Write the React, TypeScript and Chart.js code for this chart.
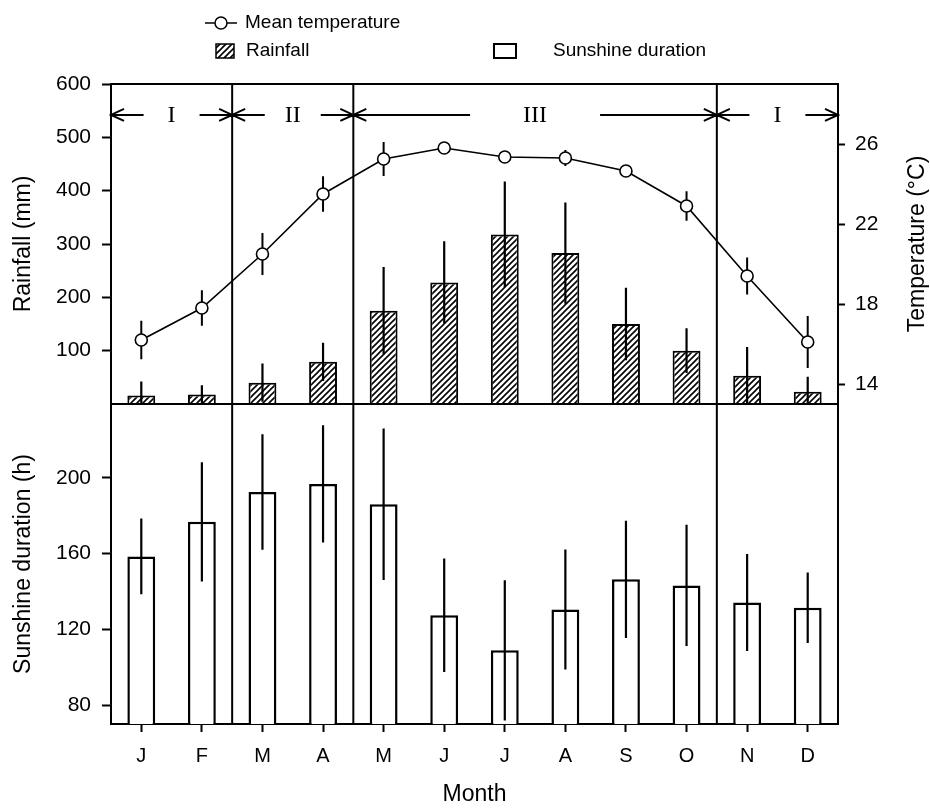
import React, { useEffect, useRef } from 'react';
import { Chart, registerables } from 'chart.js';

Chart.register(...registerables);

const months = ['J', 'F', 'M', 'A', 'M', 'J', 'J', 'A', 'S', 'O', 'N', 'D'];
const rainfall = [16, 18, 40, 79, 175, 228, 318, 283, 150, 100, 53, 23];
const rainfallSD = [26, 17, 36, 36, 82, 77, 99, 95, 68, 42, 54, 28];
const temperature = [16.2, 17.8, 20.5, 23.5, 25.25, 25.8, 25.35, 25.3, 24.65, 22.9, 19.4, 16.1];
const temperatureSD = [0.96, 0.89, 1.05, 0.89, 0.85, 0.3, 0.3, 0.4, 0.3, 0.74, 0.92, 1.3];
const sunshine = [158.5, 176.8, 192.5, 196.8, 186, 127.4, 108.9, 130.5, 146.4, 143.2, 134.2, 131.4];
const sunshineSD = [20, 31.5, 30.5, 31, 40, 30, 37, 31.7, 31, 32, 25.6, 18.6];
const rainfallTicks = [100, 200, 300, 400, 500, 600];
const temperatureTicks = [14, 18, 22, 26];
const sunshineTicks = [80, 120, 160, 200];
const periodLabels = ['I', 'II', 'III', 'I'];
const periodFrom = [0, 2, 4, 10];
const periodTo = [1, 3, 9, 11];

const SANS = "'Liberation Sans', Arial, sans-serif";
const SERIF = "'Liberation Serif', 'Times New Roman', serif";

function makeHatch(): CanvasPattern {
  const s = 6;
  const c = document.createElement('canvas');
  c.width = s;
  c.height = s;
  const g = c.getContext('2d')!;
  g.fillStyle = '#fff';
  g.fillRect(0, 0, s, s);
  g.strokeStyle = '#000';
  g.lineWidth = 1.6;
  g.beginPath();
  g.moveTo(0, s);
  g.lineTo(s, 0);
  g.moveTo(-1, 1);
  g.lineTo(1, -1);
  g.moveTo(s - 1, s + 1);
  g.lineTo(s + 1, s - 1);
  g.stroke();
  return g.createPattern(c, 'repeat')!;
}

function drawErrors(chart: any, index: number) {
  const ds = chart.data.datasets[index];
  const errs: number[] = ds.errors;
  if (!errs) return;
  const meta = chart.getDatasetMeta(index);
  const yScale = chart.scales[meta.yAxisID];
  const xScale = chart.scales.x;
  const ctx = chart.ctx;
  ctx.save();
  ctx.strokeStyle = '#000';
  ctx.lineWidth = ds.type === 'line' ? 2 : 2.2;
  ctx.beginPath();
  ds.data.forEach((v: number, j: number) => {
    const lo = Math.max(v - errs[j], yScale.min);
    const hi = Math.min(v + errs[j], yScale.max);
    const x = xScale.getPixelForValue(j);
    ctx.moveTo(x, yScale.getPixelForValue(lo));
    ctx.lineTo(x, yScale.getPixelForValue(hi));
  });
  ctx.stroke();
  ctx.restore();
}

function arrowHead(ctx: CanvasRenderingContext2D, x: number, y: number, dir: number) {
  ctx.moveTo(x - dir * 13, y - 6);
  ctx.lineTo(x, y);
  ctx.lineTo(x - dir * 13, y + 6);
}

const overlay = {
  id: 'overlay',
  beforeDatasetDraw(chart: any, args: any) {
    if (chart.data.datasets[args.index].type === 'line') drawErrors(chart, args.index);
  },
  afterDatasetDraw(chart: any, args: any) {
    if (chart.data.datasets[args.index].type !== 'line') drawErrors(chart, args.index);
  },
  afterDraw(chart: any, _args: any, opts: any) {
    const ctx: CanvasRenderingContext2D = chart.ctx;
    const { left, right, top, bottom } = chart.chartArea;
    const x = chart.scales.x;
    const yRain = chart.scales.yRain;
    ctx.save();
    ctx.strokeStyle = '#000';
    ctx.fillStyle = '#000';
    ctx.lineWidth = 2;
    // frame top + panel separator
    ctx.beginPath();
    ctx.moveTo(left - 1, top);
    ctx.lineTo(right + 1, top);
    ctx.moveTo(left, yRain.bottom);
    ctx.lineTo(right, yRain.bottom);
    // period dividers
    for (let i = 0; i < periodTo.length - 1; i++) {
      const px = x.getPixelForValue(periodTo[i] + 0.5);
      ctx.moveTo(px, top);
      ctx.lineTo(px, bottom);
    }
    ctx.stroke();

    // period arrows
    const ay = yRain.getPixelForValue(opts.arrowValue);
    ctx.font = `24px ${SERIF}`;
    ctx.textAlign = 'center';
    ctx.textBaseline = 'middle';
    ctx.beginPath();
    periodLabels.forEach((lab, i) => {
      const x0 = x.getPixelForValue(periodFrom[i] - 0.5);
      const x1 = x.getPixelForValue(periodTo[i] + 0.5);
      const cx = (x0 + x1) / 2;
      const gap = opts.gaps[i];
      ctx.moveTo(x0, ay);
      ctx.lineTo(cx - gap, ay);
      arrowHead(ctx, x0, ay, -1);
      ctx.moveTo(cx + gap, ay);
      ctx.lineTo(x1, ay);
      arrowHead(ctx, x1, ay, 1);
      ctx.fillText(lab, cx, ay + 1);
    });
    ctx.stroke();

    // right axis title
    ctx.save();
    ctx.translate(918, (top + yRain.bottom) / 2);
    ctx.rotate(-Math.PI / 2);
    ctx.font = `23px ${SANS}`;
    ctx.fillText('Temperature (°C)', 0, 0);
    ctx.restore();

    // legend
    const ds = chart.data.datasets;
    ctx.font = `19px ${SANS}`;
    ctx.textAlign = 'left';
    ctx.textBaseline = 'middle';
    ctx.lineWidth = 1.5;
    ctx.beginPath();
    ctx.moveTo(205, 23);
    ctx.lineTo(237, 23);
    ctx.stroke();
    ctx.beginPath();
    ctx.arc(221, 23, 6, 0, Math.PI * 2);
    ctx.fillStyle = '#fff';
    ctx.fill();
    ctx.stroke();
    ctx.fillStyle = '#000';
    ctx.fillText(ds[0].label, 245, 23);

    ctx.fillStyle = ds[1].backgroundColor;
    ctx.fillRect(216, 44, 18, 14);
    ctx.strokeRect(216, 44, 18, 14);
    ctx.fillStyle = '#000';
    ctx.fillText(ds[1].label, 246, 51);

    ctx.lineWidth = 2;
    ctx.strokeRect(494, 44, 22, 14);
    ctx.fillText(ds[2].label, 553, 51);
    ctx.restore();
  },
};

export default function App() {
  const ref = useRef<HTMLCanvasElement>(null);
  useEffect(() => {
    const canvas = ref.current!;
    const hatch = makeHatch();
    const tickFont = { family: SANS, size: 21 };
    const titleFont = { family: SANS, size: 23 };
    const grid = { drawOnChartArea: false, tickLength: 9, tickWidth: 2, tickColor: '#000' };
    const border = { color: '#000', width: 2 };
    const chart = new Chart(canvas, {
      type: 'bar',
      data: {
        labels: months,
        datasets: [
          {
            type: 'line',
            label: 'Mean temperature',
            data: temperature,
            yAxisID: 'yTemp',
            order: 0,
            borderColor: '#000',
            borderWidth: 1.6,
            pointRadius: 6,
            pointBackgroundColor: '#fff',
            pointBorderColor: '#000',
            pointBorderWidth: 1.6,
            tension: 0,
            errors: temperatureSD,
          } as any,
          {
            type: 'bar',
            label: 'Rainfall',
            data: rainfall,
            yAxisID: 'yRain',
            order: 1,
            backgroundColor: hatch,
            borderColor: '#000',
            borderWidth: 2,
            grouped: false,
            barPercentage: 0.46,
            categoryPercentage: 1,
            errors: rainfallSD,
          } as any,
          {
            type: 'bar',
            label: 'Sunshine duration',
            data: sunshine,
            yAxisID: 'ySun',
            order: 2,
            backgroundColor: '#fff',
            borderColor: '#000',
            borderWidth: 2.5,
            grouped: false,
            barPercentage: 0.46,
            categoryPercentage: 1,
            errors: sunshineSD,
          } as any,
        ],
      },
      options: {
        responsive: false,
        animation: false,
        layout: { padding: { top: 84, left: 0, right: 0, bottom: 0 } },
        plugins: {
          legend: { display: false },
          tooltip: { enabled: false },
          overlay: { arrowValue: 542, gaps: [28, 28, 65, 28] },
        } as any,
        scales: {
          x: {
            type: 'category',
            offset: true,
            grid: { ...grid, offset: false, tickLength: 8 },
            border,
            ticks: { color: '#000', font: { family: SANS, size: 20 }, padding: 12, maxRotation: 0, autoSkip: false },
            title: { display: true, text: 'Month', color: '#000', font: titleFont, padding: { top: 0, bottom: 2 } },
            afterFit: (s: any) => { s.height = 86; },
          },
          ySun: {
            type: 'linear',
            position: 'left',
            stack: 'left',
            stackWeight: 1,
            weight: 1,
            min: 70,
            max: 239,
            afterBuildTicks: (a: any) => { a.ticks = sunshineTicks.map((value) => ({ value })); },
            grid,
            border,
            ticks: { color: '#000', font: tickFont, padding: 11, callback: (v: any) => String(v) },
            title: { display: true, text: 'Sunshine duration (h)', color: '#000', font: titleFont, padding: { top: 10, bottom: 0 } },
            afterFit: (s: any) => { s.width = 111; },
          },
          yRain: {
            type: 'linear',
            position: 'left',
            stack: 'left',
            stackWeight: 1,
            weight: 2,
            min: 0,
            max: 600,
            afterBuildTicks: (a: any) => { a.ticks = rainfallTicks.map((value) => ({ value })); },
            grid,
            border,
            ticks: { color: '#000', font: tickFont, padding: 11, callback: (v: any) => String(v) },
            title: { display: true, text: 'Rainfall (mm)', color: '#000', font: titleFont, padding: { top: 10, bottom: 0 } },
            afterFit: (s: any) => { s.width = 111; },
          },
          yTemp: {
            type: 'linear',
            position: 'right',
            min: -3,
            max: 29,
            afterBuildTicks: (a: any) => { a.ticks = temperatureTicks.map((value) => ({ value })); },
            grid: { ...grid, tickLength: 7 },
            border,
            ticks: { color: '#000', font: tickFont, padding: 10, callback: (v: any) => String(v) },
            afterFit: (s: any) => { s.width = 92; },
          },
        } as any,
      },
      plugins: [overlay as any],
    });
    return () => chart.destroy();
  }, []);

  return (
    <div style={{ position: 'absolute', left: 0, top: 0, width: 930, height: 810, background: '#fff' }}>
      <canvas ref={ref} width={930} height={810} style={{ display: 'block' }} />
    </div>
  );
}
